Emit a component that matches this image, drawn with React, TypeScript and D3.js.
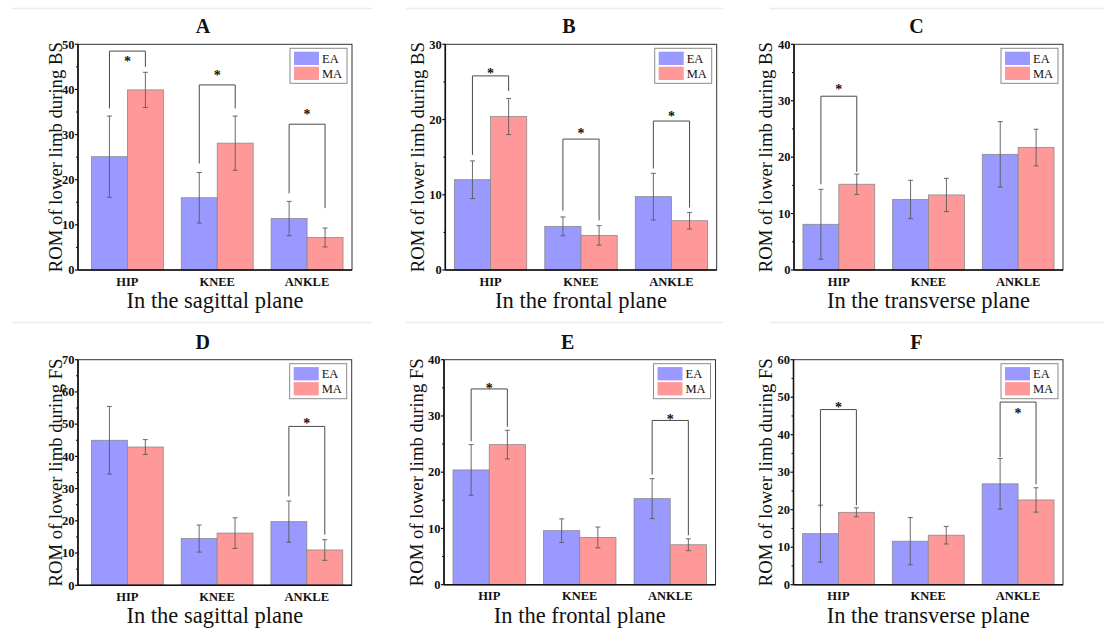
import React from "react";
import * as d3 from "d3";

// Joint categories on the x axis
const categories = ["HIP", "KNEE", "ANKLE"];
const seriesNames = ["EA", "MA"];

// Panel letters, axis titles and y-axis maxima
const panelLetters = ["A", "B", "C", "D", "E", "F"];
const planeTitles = [
  "In the sagittal plane",
  "In the frontal plane",
  "In the transverse plane",
  "In the sagittal plane",
  "In the frontal plane",
  "In the transverse plane",
];
const yTitles = [
  "ROM of lower limb during BS",
  "ROM of lower limb during BS",
  "ROM of lower limb during BS",
  "ROM of lower limb during FS",
  "ROM of lower limb during FS",
  "ROM of lower limb during FS",
];
const yMax = [50, 30, 40, 70, 40, 60];

// Mean ROM (deg) and SD per panel, ordered HIP, KNEE, ANKLE
const eaMeans = [
  [25.1, 16.0, 11.4],
  [12.0, 5.8, 9.75],
  [8.1, 12.5, 20.5],
  [45.0, 14.5, 19.75],
  [20.4, 9.6, 15.3],
  [13.6, 11.6, 26.9],
];
const eaSD = [
  [9.0, 5.6, 3.8],
  [2.5, 1.25, 3.1],
  [6.2, 3.4, 5.8],
  [10.5, 4.2, 6.4],
  [4.5, 2.1, 3.55],
  [7.6, 6.3, 6.75],
];
const maMeans = [
  [39.9, 28.1, 7.2],
  [20.4, 4.6, 6.55],
  [15.2, 13.3, 21.7],
  [42.9, 16.2, 10.96],
  [24.9, 8.4, 7.1],
  [19.3, 13.2, 22.6],
];
const maSD = [
  [3.9, 6.0, 2.1],
  [2.4, 1.3, 1.1],
  [1.8, 2.95, 3.25],
  [2.3, 4.75, 3.2],
  [2.55, 1.85, 1.05],
  [1.2, 2.35, 3.25],
];

// Significance brackets: [category index, EA leg foot, MA leg foot, bracket top, star centre] in data units
const significance = [
  [
    [0, 35.8, 45.0, 48.5, 46.7],
    [1, 23.6, 35.8, 41.0, 43.7],
    [2, 17.0, 13.7, 32.3, 35.1],
  ],
  [
    [0, 15.3, 23.8, 25.8, 26.4],
    [1, 7.9, 6.6, 17.4, 18.5],
    [2, 13.5, 8.3, 19.8, 20.7],
  ],
  [[0, 15.2, 17.4, 30.8, 32.4]],
  [[2, 27.6, 15.7, 49.3, 50.9]],
  [
    [0, 25.5, 28.1, 34.8, 35.4],
    [2, 19.6, 8.8, 29.2, 29.9],
  ],
  [
    [0, 20.6, 21.2, 46.7, 47.8],
    [2, 34.0, 26.8, 48.7, 46.2],
  ],
];

// Plot rectangles [left, right, top, bottom], y-title offset from the axis, x-domain start
const frames = [
  [78, 352, 44.3, 270, 16, 0.45],
  [445.3, 716.7, 44.3, 270, 21, 0.5],
  [794, 1063, 44.3, 270, 22, 0.5],
  [78, 351.7, 359.7, 585.3, 16, 0.45],
  [444, 715.5, 359.7, 584.7, 21, 0.5],
  [793.5, 1063, 359.7, 584.7, 22, 0.5],
];

const COLORS = ["#9999ff", "#ff9999"];
const FONT = '"Times New Roman", "Liberation Serif", Times, serif';
const BAR_W = 0.4;

function Panel({ i }: { i: number }) {
  const [L, R, T, B, yOff, x0d] = frames[i];
  const x = d3.scaleLinear().domain([x0d, 3.5]).range([L, R]);
  const y = d3.scaleLinear().domain([0, yMax[i]]).range([B, T]);
  const major = d3.range(0, yMax[i] + 0.001, 10);
  const minor = d3.range(5, yMax[i], 10);
  const series = [
    { means: eaMeans[i], sd: eaSD[i], off: -BAR_W },
    { means: maMeans[i], sd: maSD[i], off: 0 },
  ];
  const legX = R - 5 - 57;
  const legY = T + 4;

  return (
    <g style={{ fontFamily: FONT }}>
      {/* bars */}
      {series.map((s, si) =>
        categories.map((c, ci) => {
          const x0 = x(ci + 1 + s.off);
          const x1 = x(ci + 1 + s.off + BAR_W);
          return (
            <rect
              key={`b${si}${c}`}
              x={x0}
              y={y(s.means[ci])}
              width={x1 - x0}
              height={B - y(s.means[ci])}
              fill={COLORS[si]}
              stroke="#8a8a8a"
              strokeWidth={0.8}
            />
          );
        })
      )}
      {/* error bars */}
      {series.map((s, si) =>
        categories.map((c, ci) => {
          const cx = x(ci + 1 + s.off + BAR_W / 2);
          const hi = y(s.means[ci] + s.sd[ci]);
          const lo = y(s.means[ci] - s.sd[ci]);
          return (
            <g key={`e${si}${c}`} stroke="#5a5a5a" strokeWidth={0.9}>
              <line x1={cx} x2={cx} y1={hi} y2={lo} />
              <line x1={cx - 2.5} x2={cx + 2.5} y1={hi} y2={hi} />
              <line x1={cx - 2.5} x2={cx + 2.5} y1={lo} y2={lo} />
            </g>
          );
        })
      )}
      {/* significance brackets */}
      {significance[i].map(([ci, lf, rf, top, star]) => {
        const xl = x(ci + 1 - BAR_W / 2);
        const xr = x(ci + 1 + BAR_W / 2);
        return (
          <g key={`s${ci}`}>
            <path
              d={`M${xl},${y(lf)}V${y(top)}H${xr}V${y(rf)}`}
              fill="none"
              stroke="#4a4a4a"
              strokeWidth={1}
            />
            <text
              x={(xl + xr) / 2}
              y={y(star) + 7}
              textAnchor="middle"
              fontWeight="bold"
              fontSize={14}
              fill="#111"
            >
              *
            </text>
          </g>
        );
      })}
      {/* frame */}
      <rect x={L} y={T} width={R - L} height={B - T} fill="none" stroke="#333" strokeWidth={1} />
      <line x1={L} x2={L} y1={T} y2={B} stroke="#111" strokeWidth={1.6} />
      <line x1={L} x2={R} y1={B} y2={B} stroke="#111" strokeWidth={1.6} />
      {/* y ticks */}
      {major.map((v) => (
        <g key={`t${v}`}>
          <line x1={L - 3} x2={L} y1={y(v)} y2={y(v)} stroke="#111" strokeWidth={1.2} />
          <text
            x={L - 3.5}
            y={y(v) + 4.2}
            textAnchor="end"
            fontWeight="bold"
            fontSize={12.5}
            fill="#111"
          >
            {v}
          </text>
        </g>
      ))}
      {minor.map((v) => (
        <line key={`m${v}`} x1={L - 2} x2={L} y1={y(v)} y2={y(v)} stroke="#111" strokeWidth={1} />
      ))}
      {/* x labels */}
      {categories.map((c, ci) => (
        <text
          key={`x${c}`}
          x={x(ci + 1)}
          y={B + 15.7}
          textAnchor="middle"
          fontWeight="bold"
          fontSize={12.5}
          fill="#111"
        >
          {c}
        </text>
      ))}
      {/* titles */}
      <text x={(L + R) / 2} y={B + 38} textAnchor="middle" fontSize={22.5} fill="#111">
        {planeTitles[i]}
      </text>
      <text
        transform={`translate(${L - yOff},${(T + B) / 2}) rotate(-90)`}
        textAnchor="middle"
        fontSize={18.7}
        fill="#111"
      >
        {yTitles[i]}
      </text>
      <text
        x={(L + R) / 2 - 12}
        y={T - 11}
        textAnchor="middle"
        fontWeight="bold"
        fontSize={20}
        fill="#111"
      >
        {panelLetters[i]}
      </text>
      {/* legend */}
      <rect x={legX} y={legY} width={57} height={35} fill="#fff" stroke="#8a8a8a" strokeWidth={1} />
      {seriesNames.map((n, si) => (
        <g key={`l${n}`}>
          <rect x={legX + 4} y={legY + 3.4 + si * 15} width={25} height={13.3} fill={COLORS[si]} />
          <text x={legX + 32} y={legY + 14.5 + si * 15} fontSize={12.5} fill="#111">
            {n}
          </text>
        </g>
      ))}
    </g>
  );
}

// faint separators above each row of panels
const separatorSpans = [
  [12, 372],
  [406, 723],
  [770, 1104],
];
const separatorRows = [8.5, 322.5];

export default function App() {
  return (
    <div style={{ position: "absolute", left: 0, top: 0 }}>
      <svg width={1108} height={633} style={{ display: "block", background: "#fff" }}>
        {separatorRows.map((yy) =>
          separatorSpans.map(([a, b]) => (
            <line key={`${yy}-${a}`} x1={a} x2={b} y1={yy} y2={yy} stroke="#ebebeb" strokeWidth={1.5} />
          ))
        )}
        {panelLetters.map((_, i) => (
          <Panel key={i} i={i} />
        ))}
      </svg>
    </div>
  );
}
